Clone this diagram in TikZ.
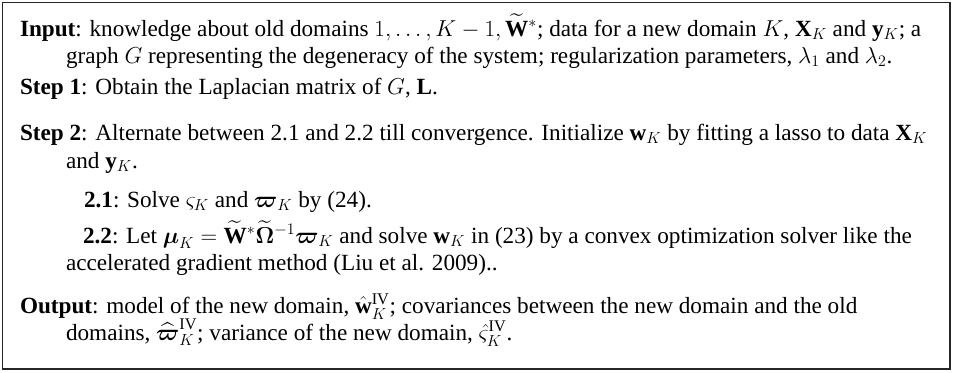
\documentclass[tikz,border=0pt]{standalone}
\usepackage{amsmath,amssymb}
\usepackage{fontspec}
\setmainfont{Liberation Serif}
\usetikzlibrary{positioning}

\tikzset{
  algline/.style={anchor=base west,inner sep=0pt,outer sep=0pt,
    font=\fontsize{17.4}{20}\selectfont},
  algframe/.style={draw=black!85,line width=1.3pt}
}

\begin{document}
\begin{tikzpicture}[x=0.75pt,y=-0.75pt]
\useasboundingbox (0,0) rectangle (953,372);
\draw[algframe] (2.5,2.5) rectangle (950,369);
% input
\node[algline] (in1) at (20,36) {\textbf{Input}: knowledge about old domains $1, \ldots, K-1, \widetilde{\mathbf{W}}^{*}$; data for a new domain $K$, $\mathbf{X}_K$ and $\mathbf{y}_K$; a};
\node[algline] (in2) at (66,63) {graph $G$ representing the degeneracy of the system; regularization parameters, $\lambda_1$ and $\lambda_2$.};
% steps
\node[algline] (st1) at (20,94) {\textbf{Step 1}: Obtain the Laplacian matrix of $G$, $\mathbf{L}$.};
\node[algline] (st2a) at (20,140) {\textbf{Step 2}: Alternate between 2.1 and 2.2 till convergence. Initialize $\mathbf{w}_K$ by fitting a lasso to data $\mathbf{X}_K$};
\node[algline] (st2b) at (66,168) {and $\mathbf{y}_K$.};
\node[algline] (sub1) at (84,207) {\textbf{2.1}: Solve $\varsigma_K$ and $\boldsymbol{\varpi}_K$ by (24).};
\node[algline] (sub2a) at (83,243) {\textbf{2.2}: Let $\boldsymbol{\mu}_K = \widetilde{\mathbf{W}}^{*}\widetilde{\boldsymbol{\Omega}}{}^{-1}\boldsymbol{\varpi}_K$ and solve $\mathbf{w}_K$ in (23) by a convex optimization solver like the};
\node[algline] (sub2b) at (66,270) {accelerated gradient method (Liu et al. 2009)..};
% output
\node[algline] (out1) at (20,313) {\textbf{Output}: model of the new domain, $\hat{\mathbf{w}}_K^{\mathrm{IV}}$; covariances between the new domain and the old};
\node[algline] (out2) at (66,340) {domains, $\widehat{\boldsymbol{\varpi}}_K^{\mathrm{IV}}$; variance of the new domain, $\hat{\varsigma}_K^{\mathrm{IV}}$.};
\end{tikzpicture}
\end{document}
